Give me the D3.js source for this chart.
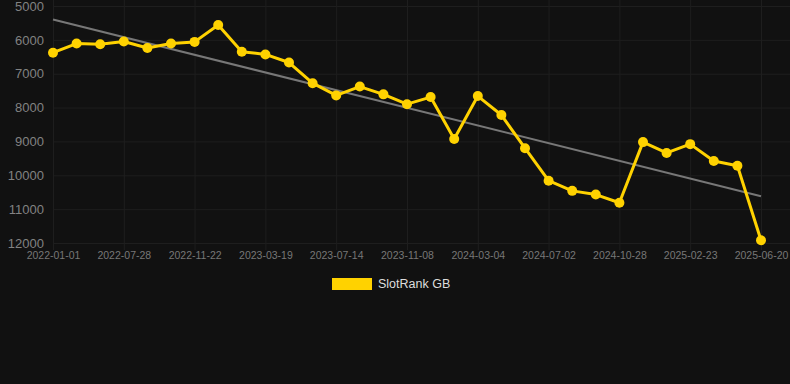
<!DOCTYPE html>
<html>
<head>
<meta charset="utf-8">
<script src="https://cdn.jsdelivr.net/npm/d3@7"></script>
<style>
  html, body { margin: 0; padding: 0; background: #111111; }
  #chart { width: 790px; height: 384px; }
  text { font-family: "Liberation Sans", Arial, sans-serif; }
</style>
</head>
<body>
<div id="chart"></div>
<script>
// rank dates (only every third one is labelled on the axis)
const dates = [
  "2022-01-01", "2022-03-11", "2022-05-19", "2022-07-28", "2022-09-05", "2022-10-14",
  "2022-11-22", "2022-12-31", "2023-02-08", "2023-03-19", "2023-04-27", "2023-06-05",
  "2023-07-14", "2023-08-22", "2023-09-30", "2023-11-08", "2023-12-17", "2024-01-25",
  "2024-03-04", "2024-04-13", "2024-05-23", "2024-07-02", "2024-08-10", "2024-09-19",
  "2024-10-28", "2024-12-06", "2025-01-15", "2025-02-23", "2025-04-03", "2025-05-12",
  "2025-06-20"
];
const rankGB = [
  6380, 6110, 6130, 6050, 6240, 6110, 6060, 5560, 6350, 6430, 6670,
  7280, 7640, 7380, 7610, 7900, 7690, 8930, 7660, 8220, 9200,
  10160, 10460, 10570, 10810, 9020, 9340, 9080, 9580, 9720, 11920
];
const yTicks = [5000, 6000, 7000, 8000, 9000, 10000, 11000, 12000];
const seriesName = "SlotRank GB";

const W = 790, H = 384;
const padL = 53, padR = 761, padT = 6, padB = 243;

const svg = d3.select("#chart").append("svg")
  .attr("width", W).attr("height", H);

const x = d3.scalePoint().domain(dates).range([padL, padR]);
const y = d3.scaleLinear().domain([5000, 12000]).range([padT, padB]);

// grid
const grid = svg.append("g").attr("stroke", "#1e1e1e").attr("stroke-width", 1);
grid.selectAll("line.h")
  .data(yTicks)
  .enter().append("line")
  .attr("x1", padL).attr("x2", W)
  .attr("y1", d => y(d) + 0.5).attr("y2", d => y(d) + 0.5);
const shownDates = dates.filter((d, i) => i % 3 === 0);
grid.selectAll("line.v")
  .data(shownDates)
  .enter().append("line")
  .attr("x1", d => x(d) + 0.5).attr("x2", d => x(d) + 0.5)
  .attr("y1", 0).attr("y2", padB + 7);

// y axis labels
const yAxis = svg.append("g")
  .attr("transform", `translate(${padL - 9},0)`)
  .call(d3.axisLeft(y).tickValues(yTicks).tickSize(0).tickPadding(0).tickFormat(d3.format("d")));
yAxis.select(".domain").remove();
yAxis.selectAll("text").attr("fill", "#828282").attr("font-size", 13);

// x axis labels
const xAxis = svg.append("g")
  .attr("transform", `translate(0,${padB + 9})`)
  .call(d3.axisBottom(x).tickValues(shownDates).tickSize(0).tickPadding(0));
xAxis.select(".domain").remove();
xAxis.selectAll("text").attr("fill", "#777777").attr("font-size", 10.5).attr("dy", "0.71em");

// trend line (least squares over point index)
const n = rankGB.length;
const mx = d3.mean(rankGB, (d, i) => i);
const my = d3.mean(rankGB);
const slope = d3.sum(rankGB, (d, i) => (i - mx) * (d - my)) / d3.sum(rankGB, (d, i) => (i - mx) * (i - mx));
const trend = [0, n - 1].map(i => [dates[i], my + slope * (i - mx)]);
svg.append("path")
  .datum(trend)
  .attr("fill", "none")
  .attr("stroke", "#777777")
  .attr("stroke-width", 2)
  .attr("d", d3.line().x(d => x(d[0])).y(d => y(d[1])));

// series
const pts = dates.map((d, i) => [d, rankGB[i]]);
svg.append("path")
  .datum(pts)
  .attr("fill", "none")
  .attr("stroke", "#FFD200")
  .attr("stroke-width", 3)
  .attr("stroke-linejoin", "round")
  .attr("d", d3.line().x(d => x(d[0])).y(d => y(d[1])));
svg.append("g").selectAll("circle")
  .data(pts)
  .enter().append("circle")
  .attr("cx", d => x(d[0]))
  .attr("cy", d => y(d[1]))
  .attr("r", 5)
  .attr("fill", "#FFD200");

// legend
const legend = svg.append("g").attr("transform", "translate(332,278)");
legend.append("rect").attr("width", 40).attr("height", 12).attr("fill", "#FFD200");
legend.append("text")
  .attr("x", 46).attr("y", 6).attr("dy", "0.35em")
  .attr("fill", "#DDDDDD").attr("font-size", 12.5)
  .text(seriesName);
</script>
</body>
</html>
